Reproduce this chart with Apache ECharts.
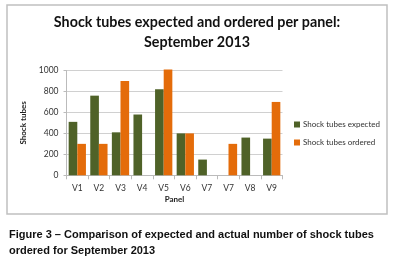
<!DOCTYPE html>
<html><head><meta charset="utf-8">
<script src="https://cdn.jsdelivr.net/npm/echarts@6/dist/echarts.min.js"></script>
<style>html,body{margin:0;padding:0;background:#fff}#c{width:393px;height:270px}</style>
</head><body><div id="c"></div>
<script>
const categories = ['V1','V2','V3','V4','V5','V6','V7','V7','V8','V9'];
const expected = [510, 760, 410, 580, 820, 400, 150, 0, 360, 350];
const ordered = [300, 300, 900, 0, 1010, 400, 0, 300, 0, 700];
const yTicks = {min: 0, max: 1000, interval: 200};
const seriesNames = ['Shock tubes expected', 'Shock tubes ordered'];

const chart = echarts.init(document.getElementById('c'), null, {renderer: 'canvas'});
chart.setOption({
  animation: false,
  backgroundColor: '#fff',
  title: [
    {text: 'Shock tubes expected and ordered per panel:\nSeptember 2013', left: 197, top: 12.5, textAlign: 'center', padding: 0,
     textStyle: {fontFamily: 'Lato', fontWeight: 'bold', fontSize: 14.3, lineHeight: 20, color: '#111'}},
    {text: 'Figure 3 – Comparison of expected and actual number of shock tubes\nordered for September 2013', left: 9, top: 226.5, padding: 0,
     textStyle: {fontFamily: 'Liberation Sans', fontWeight: 'bold', fontSize: 11, lineHeight: 16.5, color: '#111'}}
  ],
  graphic: [{type: 'rect', shape: {x: 7, y: 5, width: 380, height: 209}, style: {fill: 'none', stroke: '#c0c0c0', lineWidth: 1.5}, z: -1}],
  legend: {orient: 'vertical', left: 294, top: 120.5, itemWidth: 6, itemHeight: 6, itemGap: 10, icon: 'rect', padding: 0,
    textStyle: {fontFamily: 'Lato', fontSize: 8, color: '#333', padding: [0,0,0,-2]}},
  grid: {left: 66.5, right: 110.5, top: 70.5, bottom: 94.7},
  xAxis: {type: 'category', data: categories, name: 'Panel', nameLocation: 'middle', nameGap: 20,
    nameTextStyle: {fontFamily: 'Lato', fontWeight: 'bold', fontSize: 8, color: '#222'},
    axisLine: {lineStyle: {color: '#bbb'}}, axisTick: {show: true, length: 4, lineStyle: {color: '#bbb'}},
    axisLabel: {fontFamily: 'Lato', fontSize: 8.5, color: '#333', margin: 8}},
  yAxis: {type: 'value', min: yTicks.min, max: yTicks.max, interval: yTicks.interval, name: 'Shock tubes', nameLocation: 'middle', nameGap: 38,
    nameTextStyle: {fontFamily: 'Lato', fontWeight: 'bold', fontSize: 8, color: '#222'},
    axisLine: {show: true, lineStyle: {color: '#bbb'}}, axisTick: {show: true, length: 3, lineStyle: {color: '#bbb'}},
    splitLine: {lineStyle: {color: '#d0d0d0'}},
    axisLabel: {fontFamily: 'Lato', fontSize: 8.5, color: '#333', margin: 8, formatter: v => String(v)}},
  series: [
    {name: seriesNames[0], type: 'bar', data: expected, itemStyle: {color: '#4f6228'}, barGap: '0%', barCategoryGap: '20%', clip: false},
    {name: seriesNames[1], type: 'bar', data: ordered, itemStyle: {color: '#e46c0a'}, barGap: '0%', barCategoryGap: '20%', clip: false}
  ]
});
</script></body></html>
